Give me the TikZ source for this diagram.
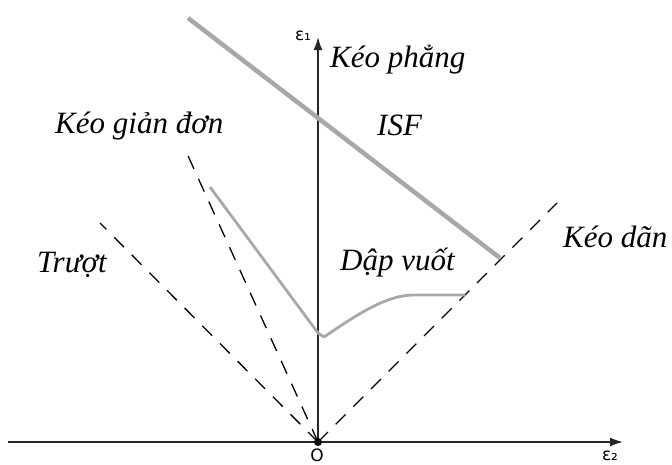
\documentclass[tikz,border=0pt]{standalone}
\usepackage{fontspec}
\setmainfont{Liberation Serif}
\newfontfamily\axisfont{DejaVu Sans}
\usetikzlibrary{arrows.meta}
\definecolor{isfgrey}{RGB}{168,168,168}

\begin{document}
\begin{tikzpicture}[
    x=1pt,y=-1pt,
    >={Latex[length=13pt,width=9pt]},
    axis/.style={->,draw=black!85,line width=1.6pt},
    refline/.style={draw=black,line width=1.3pt,dash pattern=on 14pt off 11pt},
    isfline/.style={draw=isfgrey,line width=4.5pt},
    fldline/.style={draw=isfgrey,line width=2.8pt,line join=round},
    lbl/.style={font=\fontsize{31}{34}\selectfont\itshape,inner sep=0pt,anchor=base west},
    axlbl/.style={font=\axisfont\fontsize{17}{19}\selectfont,inner sep=0pt}
  ]
    \useasboundingbox (0,0) rectangle (672,464);

    % axes
    \coordinate (o) at (318,442);
    \coordinate (xl) at (8,442);
    \coordinate (xr) at (623,442);
    \coordinate (yt) at (318,37);
    \draw[axis] (xl) -- (xr);
    \draw[axis] (o) -- (yt);
    \fill (o) circle (4pt);

    % strain paths
    \coordinate (simple) at (184,147);
    \coordinate (shear) at (100,223);
    \coordinate (biax) at (557,203);
    \draw[refline] (o) -- (simple);
    \draw[refline] (o) -- (shear);
    \draw[refline] (o) -- (biax);

    % forming limit curves
    \coordinate (isfa) at (188,18);
    \coordinate (isfb) at (500,258);
    \draw[isfline] (isfa) -- (isfb);
    \coordinate (flda) at (210,187);
    \coordinate (fldm) at (324,337);
    \coordinate (fldb) at (465,295);
    \draw[fldline] (flda) -- (318,333) -- (fldm)
      .. controls (352,318) and (385,295) .. (413,295) -- (fldb);

    % labels
    \node[axlbl] (e1) at (303,36) {ε₁};
    \node[axlbl] (e2) at (610,456) {ε₂};
    \node[axlbl] (olbl) at (317,455) {O};
    \node[lbl] (plane) at (330,67) {Kéo phẳng};
    \node[lbl] (isf) at (377,135) {ISF};
    \node[lbl] (uni) at (55,133) {Kéo giản đơn};
    \node[lbl] (shr) at (37,272) {Trượt};
    \node[lbl] (deep) at (340,270) {Dập vuốt};
    \node[lbl] (stretch) at (563,247) {Kéo dãn};
  \end{tikzpicture}
\end{document}
